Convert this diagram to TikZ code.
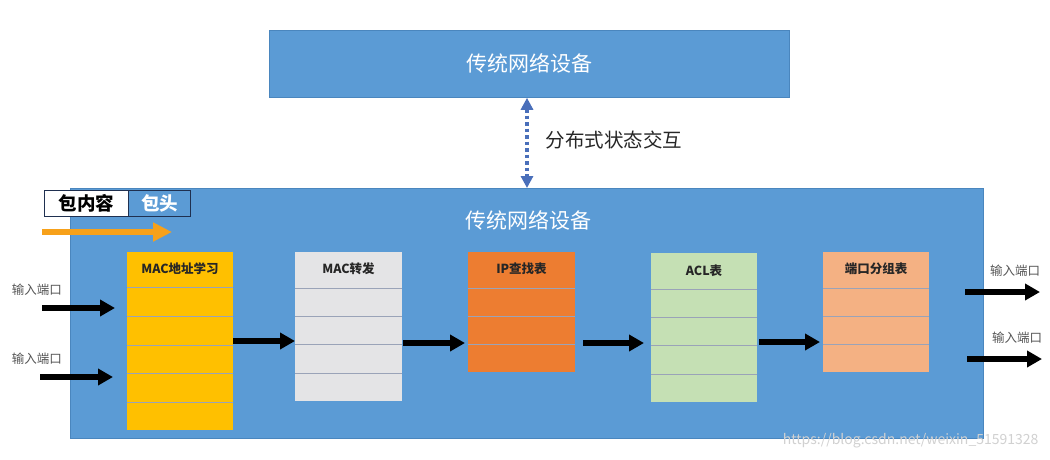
\documentclass[tikz,border=0pt]{standalone}
\usepackage{fontspec}
\setmainfont{Noto Sans CJK SC}
\usetikzlibrary{arrows.meta,calc}
\definecolor{boxblue}{HTML}{5B9BD5}
\definecolor{boxedge}{HTML}{4A86BE}
\definecolor{dotblue}{HTML}{4A6FBA}
\definecolor{macy}{HTML}{FFC000}
\definecolor{fwdg}{HTML}{E4E4E6}
\definecolor{ipo}{HTML}{ED7D31}
\definecolor{aclg}{HTML}{C5E0B4}
\definecolor{porto}{HTML}{F4B183}
\definecolor{rowline}{HTML}{9AA3B8}
\definecolor{orangearrow}{HTML}{F7A11A}
\definecolor{pktedge}{HTML}{1F3050}
\definecolor{portgray}{HTML}{555555}
\tikzset{
  device/.style={fill=boxblue, draw=boxedge, line width=0.8pt, anchor=north west, inner sep=0pt},
  devtitle/.style={text=white, font=\fontsize{21}{24}\selectfont},
  tbl/.style={anchor=north west, inner sep=0pt, draw=none},
  hdr/.style={font=\fontsize{12.5}{14}\selectfont\bfseries, text=black!85, anchor=center},
  rowsep/.style={draw=rowline, line width=0.8pt},
  blk/.style={draw=black, line width=5.5pt, -{Triangle[length=15pt,width=16pt]}},
  portlbl/.style={text=portgray, font=\fontsize{12.5}{14}\selectfont},
}
\begin{document}
\begin{tikzpicture}[x=1pt,y=-1pt]
\useasboundingbox (0,0) rectangle (1050,459);
\fill[white] (0,0) rectangle (1050,459);

% top device
\node[device, minimum width=520pt, minimum height=67pt] (top) at (269,30) {};
\node[devtitle] (toptitle) at (top.center) {传统网络设备};

% main device
\node[device, minimum width=913pt, minimum height=250pt] (main) at (70,188) {};
\node[devtitle] (maintitle) at (528,220) {传统网络设备};

% dotted interaction arrow
\draw[draw=dotblue, line width=3.5pt, dash pattern=on 3.5pt off 3pt,
  {Triangle[length=12pt,width=12pt]}-{Triangle[length=12pt,width=12pt]}]
  (top.south -| 527,0) -- (main.north -| 527,0);
\node[anchor=west, font=\fontsize{19.5}{22}\selectfont, text=black!85] (inter) at (542,140) {分布式状态交互};

% packet box
\node[draw=pktedge, line width=1.2pt, fill=white, minimum width=84pt, minimum height=26pt, inner sep=0pt, anchor=north west,
  font=\fontsize{18.5}{20}\selectfont\bfseries] (pkt) at (44,190) {包内容};
\node[draw=pktedge, line width=1.2pt, fill=boxblue, text=white, minimum width=62pt, minimum height=26pt, inner sep=0pt, anchor=north west,
  font=\fontsize{18.5}{20}\selectfont\bfseries] (hd) at (128,190) {包头};
\coordinate (oa) at (42,232);
\coordinate (ob) at (172,232);
\draw[draw=orangearrow, line width=6pt, -{Triangle[length=19pt,width=18pt]}] (oa) -- (ob);

% MAC learning table
\node[tbl, fill=macy, minimum width=106pt, minimum height=178pt] (mac) at (127,252) {};
\node[hdr] (mach) at (180,269) {MAC地址学习};
\foreach \yy in {287,316,345,373,402} \draw[rowsep] (mac.west |- 0,\yy) -- (mac.east |- 0,\yy);

% MAC forwarding
\node[tbl, fill=fwdg, minimum width=107pt, minimum height=149pt] (fwd) at (295,252) {};
\node[hdr] (fwdh) at (348.5,269) {MAC转发};
\foreach \yy in {288,316,344,373} \draw[rowsep] (fwd.west |- 0,\yy) -- (fwd.east |- 0,\yy);

% IP lookup
\node[tbl, fill=ipo, minimum width=107pt, minimum height=120pt] (ip) at (468,252) {};
\node[hdr] (iph) at (521.5,269) {IP查找表};
\foreach \yy in {288,316,344} \draw[rowsep] (ip.west |- 0,\yy) -- (ip.east |- 0,\yy);

% ACL
\node[tbl, fill=aclg, minimum width=106pt, minimum height=149pt] (acl) at (651,253) {};
\node[hdr] (aclh) at (704,271) {ACL表};
\foreach \yy in {289,317,345,374} \draw[rowsep] (acl.west |- 0,\yy) -- (acl.east |- 0,\yy);

% Port group
\node[tbl, fill=porto, minimum width=106pt, minimum height=120pt] (pg) at (823,252) {};
\node[hdr] (pgh) at (876,269) {端口分组表};
\foreach \yy in {288,316,344} \draw[rowsep] (pg.west |- 0,\yy) -- (pg.east |- 0,\yy);

% input ports
\node[portlbl] (in1l) at (37,290) {输入端口};
\node[portlbl] (in2l) at (37,359) {输入端口};
\coordinate (in1) at (42,308);
\coordinate (in2) at (40,377);
\draw[blk, shorten >=12pt] (in1) -- (mac.west |- in1);
\draw[blk, shorten >=14pt] (in2) -- (mac.west |- in2);

% pipeline arrows
\draw[blk] (mac.east |- 0,341) -- (fwd.west |- 0,341);
\draw[blk, shorten <=1pt, shorten >=3pt] (fwd.east |- 0,343) -- (ip.west |- 0,343);
\draw[blk, shorten <=8pt, shorten >=7pt] (ip.east |- 0,343) -- (acl.west |- 0,343);
\draw[blk, shorten <=2pt, shorten >=3pt] (acl.east |- 0,342) -- (pg.west |- 0,342);

% output ports
\coordinate (out1a) at (965,292);
\coordinate (out1b) at (1040,292);
\coordinate (out2a) at (967,359);
\coordinate (out2b) at (1042,359);
\draw[blk] (out1a) -- (out1b);
\draw[blk] (out2a) -- (out2b);
\node[portlbl] (o1l) at (1015,271) {输入端口};
\node[portlbl] (o2l) at (1017,338) {输入端口};

% watermark
\node[anchor=east, text=black!18, font=\fontsize{14}{16}\selectfont] (wm) at (1042,441) {https://blog.csdn.net/weixin\_51591328};
\end{tikzpicture}
\end{document}
